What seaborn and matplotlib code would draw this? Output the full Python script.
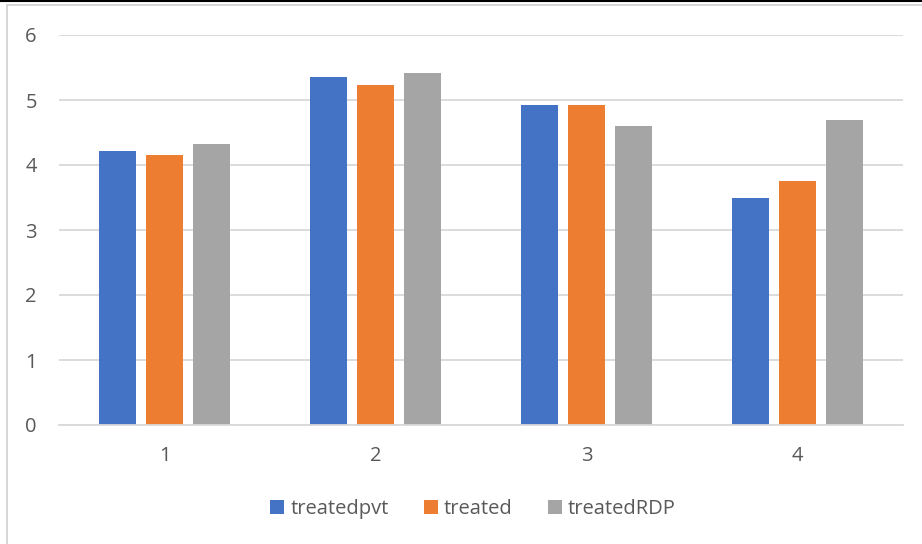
import matplotlib
matplotlib.use("Agg")
import matplotlib.pyplot as plt
from matplotlib.lines import Line2D
import seaborn as sns
import pandas as pd

categories = ["1", "2", "3", "4"]
series_names = ["treatedpvt", "treated", "treatedRDP"]
treatedpvt = [4.22, 5.36, 4.92, 3.50]
treated = [4.15, 5.23, 4.93, 3.76]
treatedRDP = [4.32, 5.42, 4.60, 4.70]
colors = ["#4472C4", "#ED7D31", "#A5A5A5"]

df = pd.DataFrame({
    "group": categories * 3,
    "series": sum([[n] * len(categories) for n in series_names], []),
    "value": treatedpvt + treated + treatedRDP,
})

sns.set_theme(style="white")
plt.rcParams["font.family"] = ["Open Sans", "DejaVu Sans"]
text_color = "#595959"
fsize = 14.5

fig = plt.figure(figsize=(9.22, 5.44), dpi=100)
W, H = 922, 544
ax = fig.add_axes([59 / W, (H - 425) / H, (903 - 59) / W, (425 - 35) / H])

sns.barplot(data=df, x="group", y="value", hue="series", order=categories,
            hue_order=series_names, palette=colors, width=0.668, gap=0.21,
            linewidth=0, saturation=1, ax=ax, legend=True)

ax.set_ylim(0, 6)
ax.set_xlim(-0.5, 3.5)
ax.set_yticks(range(0, 7))
ax.yaxis.grid(True, color="#D9D9D9", linewidth=1.3)
ax.set_axisbelow(True)
for side in ["top", "right", "left"]:
    ax.spines[side].set_visible(False)
ax.spines["bottom"].set_color("#D9D9D9")
ax.spines["bottom"].set_linewidth(1.3)
ax.tick_params(axis="both", length=0, colors=text_color, labelsize=fsize)
ax.tick_params(axis="y", pad=16)
ax.tick_params(axis="x", pad=15)
ax.set_xlabel("")
ax.set_ylabel("")

handles, labels = ax.get_legend_handles_labels()
ax.legend(handles, labels, loc="center", bbox_to_anchor=(473 / W, (H - 509) / H),
          bbox_transform=fig.transFigure, ncol=3, frameon=False,
          handlelength=0.7, handleheight=0.7, handletextpad=0.3,
          columnspacing=1.75, fontsize=fsize, labelcolor=text_color,
          borderpad=0, borderaxespad=0)

# outer chart frame
fig.add_artist(Line2D([0, 1], [1 - 0.5 / H, 1 - 0.5 / H], color="black", linewidth=1.5))
fig.add_artist(Line2D([6.5 / W, 6.5 / W], [0, 1 - 5 / H], color="#D0D0D0", linewidth=1.2))
fig.add_artist(Line2D([6.5 / W, 1], [1 - 5 / H, 1 - 5 / H], color="#D0D0D0", linewidth=1.2))

fig.savefig("out.png", dpi=100)
